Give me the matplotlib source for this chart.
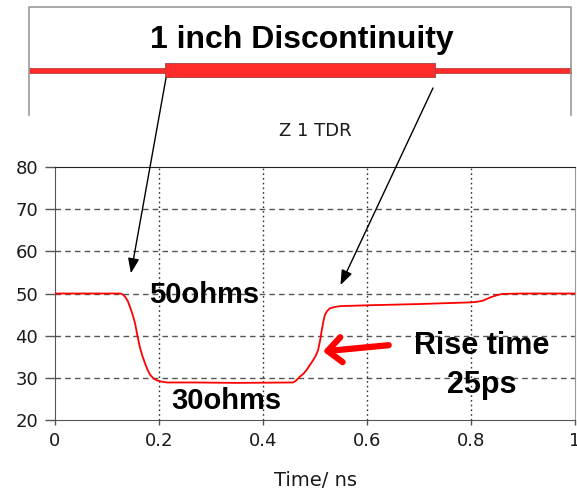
import numpy as np
import matplotlib
matplotlib.use("Agg")
import matplotlib.pyplot as plt
from matplotlib.patches import Rectangle

# TDR trace: time (ns) and impedance (ohms)
time_ns = [0.0, 0.10, 0.125, 0.130, 0.135, 0.140, 0.144, 0.149, 0.154, 0.158,
           0.163, 0.168, 0.173, 0.178, 0.183, 0.190, 0.196, 0.205, 0.215, 0.27,
           0.35, 0.458, 0.464, 0.471, 0.478, 0.484, 0.490, 0.497, 0.502, 0.506,
           0.510, 0.513, 0.516, 0.519, 0.523, 0.529, 0.538, 0.548, 0.60, 0.70,
           0.80, 0.81, 0.823, 0.83, 0.84, 0.85, 0.86, 0.90, 1.0]
z_ohms = [50.0, 50.0, 50.0, 49.8, 49.2, 48.2, 46.9, 45.1, 42.9, 40.3,
          37.4, 35.2, 33.5, 31.9, 30.7, 29.8, 29.4, 29.1, 28.9, 28.9,
          28.8, 28.9, 29.4, 30.3, 31.0, 31.9, 33.0, 34.3, 35.4, 36.6,
          39.0, 41.3, 43.3, 44.9, 45.8, 46.5, 46.8, 47.0, 47.2, 47.5,
          47.9, 48.0, 48.3, 48.7, 49.2, 49.6, 49.9, 50.0, 50.0]

x_ticks = [0, 0.2, 0.4, 0.6, 0.8, 1]
x_labels = ['0', '0.2', '0.4', '0.6', '0.8', '1']
y_ticks = [20, 30, 40, 50, 60, 70, 80]

W, H = 577, 494
fig = plt.figure(figsize=(W / 100, H / 100), dpi=100)

# main chart
ax = fig.add_axes([55 / W, 1 - 420 / H, 520 / W, 253 / H])
ax.plot(time_ns, z_ohms, color='#ff0000', lw=1.3, zorder=3)
ax.set_xlim(0, 1)
ax.set_ylim(20, 80)
ax.set_xticks(x_ticks)
ax.set_xticklabels(x_labels)
ax.set_yticks(y_ticks)

for v in y_ticks[1:-1]:
    ax.axhline(v, color='#555555', lw=1, ls=(0, (4, 3)), zorder=1)
for v in x_ticks[1:-1]:
    ax.axvline(v, color='#333333', lw=1, ls=(0, (1.2, 2.2)), zorder=1)

ax.spines['top'].set_color('#222222')
ax.spines['left'].set_color('#555555')
ax.spines['bottom'].set_color('#555555')
ax.spines['right'].set_color('#999999')
ax.tick_params(axis='y', length=7.2, width=1, color='#555555', pad=5,
               labelsize=13, labelcolor='#1a1a1a')
ax.tick_params(axis='x', length=3.6, width=1, color='#555555', pad=5,
               labelsize=13, labelcolor='#1a1a1a')
ax.set_xlabel('Time/ ns', fontsize=14, color='#1a1a1a', labelpad=15)

bold = dict(family='Liberation Sans', fontweight='bold', color='black')
ax.text(0.287, 49.6, '50ohms', fontsize=21, ha='center', va='center', **bold)
ax.text(0.329, 24.6, '30ohms', fontsize=21, ha='center', va='center', **bold)
ax.text(0.821, 37.6, 'Rise time', fontsize=22, ha='center', va='center', **bold)
ax.text(0.821, 28.3, '25ps', fontsize=22, ha='center', va='center', **bold)

ax.annotate('', xy=(0.51, 36.2), xytext=(0.647, 37.8),
            arrowprops=dict(arrowstyle='->,head_length=0.5,head_width=0.45',
                            color='#ff0000', lw=4.5, mutation_scale=20),
            zorder=4)

# schematic of the line on top
top = fig.add_axes([0, 0, 1, 1], zorder=-1)
top.set_xlim(0, W)
top.set_ylim(H, 0)
top.axis('off')
top.plot([29, 29, 571, 571], [115, 7, 7, 115], color='#999999', lw=1.2)
top.add_patch(Rectangle((29, 68.5), 542, 5, facecolor='#ff2a2a',
                        edgecolor='#c04040', lw=0.6))
top.add_patch(Rectangle((165, 63), 270, 14, facecolor='#ff2a2a',
                        edgecolor='#a04040', lw=0.6))
top.text(302, 40, '1 inch Discontinuity', fontsize=23, ha='center',
         va='center', **bold)
top.text(315, 131, 'Z 1 TDR', fontsize=13, color='#1a1a1a',
         ha='center', va='center')

arrow_kw = dict(arrowstyle='-|>,head_length=0.45,head_width=0.17',
                color='black', lw=1, mutation_scale=20, shrinkA=0, shrinkB=0)
ax.annotate('', xy=(0.146, 54.8), xycoords='data',
            xytext=(166 / W, 1 - 78 / H), textcoords='figure fraction',
            arrowprops=arrow_kw, annotation_clip=False)
ax.annotate('', xy=(0.549, 52.0), xycoords='data',
            xytext=(433 / W, 1 - 88 / H), textcoords='figure fraction',
            arrowprops=arrow_kw, annotation_clip=False)

fig.savefig('out.png', dpi=100)
